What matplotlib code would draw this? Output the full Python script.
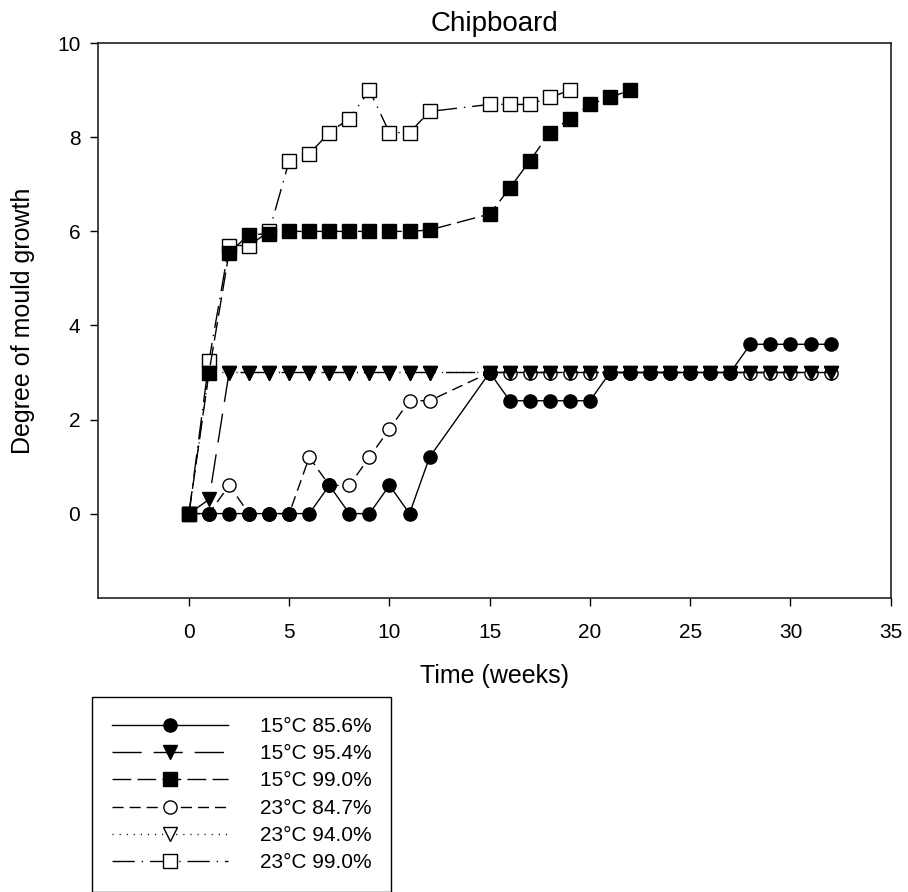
import matplotlib
matplotlib.use("Agg")
import matplotlib.pyplot as plt

plt.rcParams['font.family'] = ['Liberation Sans', 'DejaVu Sans']

# ---- data ----
weeks_a = [0, 1, 2, 3, 4, 5, 6, 7, 8, 9, 10, 11, 12,
           15, 16, 17, 18, 19, 20, 21, 22, 23, 24, 25, 26, 27, 28, 29, 30, 31, 32]
weeks_b = [0, 1, 2, 3, 4, 5, 6, 7, 8, 9, 10, 11, 12, 15, 16, 17, 18, 19, 20, 21, 22]
weeks_c = [0, 1, 2, 3, 4, 5, 6, 7, 8, 9, 10, 11, 12, 15, 16, 17, 18, 19]

s15_856 = [0, 0, 0, 0, 0, 0, 0, 0.6, 0, 0, 0.6, 0, 1.2,
           3, 2.4, 2.4, 2.4, 2.4, 2.4, 3, 3, 3, 3, 3, 3, 3, 3.6, 3.6, 3.6, 3.6, 3.6]
s15_954 = [0, 0.3, 3, 3, 3, 3, 3, 3, 3, 3, 3, 3, 3,
           3, 3, 3, 3, 3, 3, 3, 3, 3, 3, 3, 3, 3, 3, 3, 3, 3, 3]
s15_990 = [0, 3.0, 5.55, 5.93, 5.95, 6.0, 6.0, 6.0, 6.0, 6.0, 6.0, 6.0, 6.03,
           6.37, 6.92, 7.5, 8.1, 8.4, 8.7, 8.85, 9.0]
s23_847 = [0, 0, 0.6, 0, 0, 0, 1.2, 0.6, 0.6, 1.2, 1.8, 2.4, 2.4,
           3, 3, 3, 3, 3, 3, 3, 3, 3, 3, 3, 3, 3, 3, 3, 3, 3, 3]
s23_940 = [0, 3, 3, 3, 3, 3, 3, 3, 3, 3, 3, 3, 3,
           3, 3, 3, 3, 3, 3, 3, 3, 3, 3, 3, 3, 3, 3, 3, 3, 3, 3]
s23_990 = [0, 3.25, 5.7, 5.7, 6.0, 7.5, 7.65, 8.1, 8.4, 9.0, 8.1, 8.1, 8.55,
           8.7, 8.7, 8.7, 8.85, 9.0]

labels = ['15°C 85.6%', '15°C 95.4%', '15°C 99.0%',
          '23°C 84.7%', '23°C 94.0%', '23°C 99.0%']

# ---- figure ----
fig = plt.figure(figsize=(9.08, 8.92), dpi=100)
ax = fig.add_axes([0.1083, 0.3293, 0.8727, 0.6222])

ms = 9.5
lw = 1.0
series = [
    (weeks_a, s15_856, dict(marker='o', mfc='black', linestyle='-'), 16),
    (weeks_a, s15_954, dict(marker='v', mfc='black', dashes=(21, 8.6)), 15),
    (weeks_b, s15_990, dict(marker='s', mfc='black', dashes=(13.5, 4.5)), 14),
    (weeks_a, s23_847, dict(marker='o', mfc='white', dashes=(8, 4.3)), 13),
    (weeks_a, s23_940, dict(marker='v', mfc='white', dashes=(0.8, 4.3)), 12),
    (weeks_c, s23_990, dict(marker='s', mfc='white', dashes=(16, 5, 1, 5)), 11),
]
handles = []
for (x, y, st, z), lab in zip(series, labels):
    h, = ax.plot(x, y, color='black', linewidth=lw, markersize=ms,
                 markeredgecolor='black', markeredgewidth=1.0,
                 zorder=z, label=lab, **st)
    handles.append(h)

ax.set_xlim(-4.52, 35)
ax.set_ylim(-1.8, 10)
ax.set_xticks([0, 5, 10, 15, 20, 25, 30, 35])
ax.set_yticks([0, 2, 4, 6, 8, 10])
ax.tick_params(axis='both', direction='out', length=6, width=1.0,
               labelsize=15, colors='black')
ax.tick_params(axis='x', pad=11.5)
ax.tick_params(axis='y', pad=7)
for sp in ax.spines.values():
    sp.set_linewidth(1.2)
    sp.set_color('#222222')

ax.set_title('Chipboard', fontsize=20, pad=9)
ax.set_xlabel('Time (weeks)', fontsize=18)
ax.set_ylabel('Degree of mould growth', fontsize=18)
ax.xaxis.set_label_coords(0.5, -0.118)
ax.yaxis.set_label_coords(-0.08, 0.5)

leg = fig.legend(handles=handles, labels=labels, loc='upper left',
                 bbox_to_anchor=(92 / 908, 1 - 697 / 892), borderaxespad=0,
                 fontsize=15, numpoints=1, handlelength=5.6, handletextpad=1.5,
                 labelspacing=0.4, borderpad=0.95, fancybox=False,
                 framealpha=1, edgecolor='black')
leg.get_frame().set_linewidth(1.0)

fig.savefig('out.png', dpi=100)
